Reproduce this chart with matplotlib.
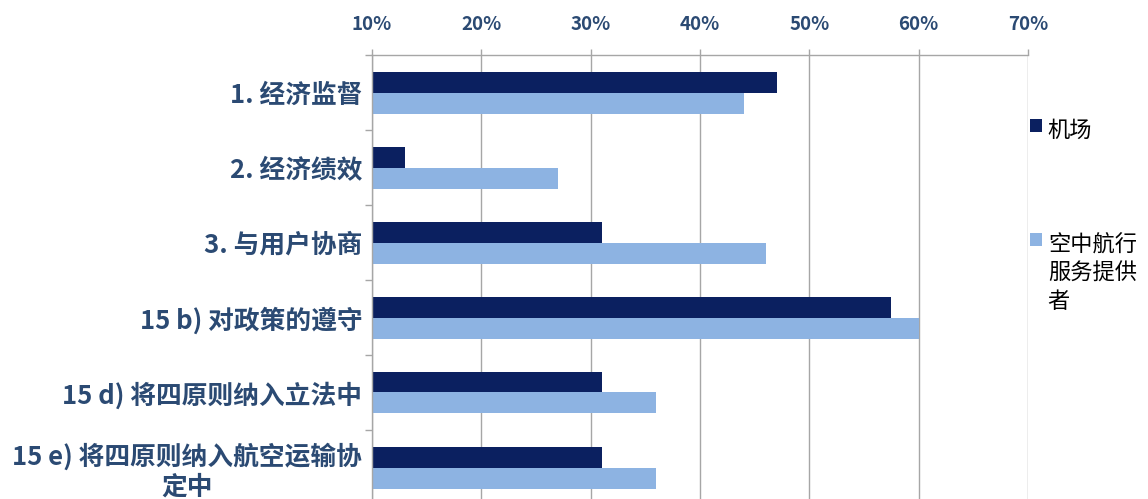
import matplotlib
matplotlib.use("Agg")
import matplotlib.pyplot as plt
import numpy as np
from matplotlib.patches import Patch

plt.rcParams["font.family"] = ["Noto Sans CJK SC", "DejaVu Sans"]

# data (percent)
categories = [
    "1. 经济监督",
    "2. 经济绩效",
    "3. 与用户协商",
    "15 b) 对政策的遵守",
    "15 d) 将四原则纳入立法中",
    "15 e) 将四原则纳入航空运输协\n定中",
]
airport = [47, 13, 31, 57.5, 31, 31]
ansp = [44, 27, 46, 60, 36, 36]
series_names = ["机场", "空中航行\n服务提供\n者"]
xticks = [10, 20, 30, 40, 50, 60, 70]

DARK = "#0B2060"
LIGHT = "#8DB3E2"
TXT = "#2B4A73"
GRID = "#A6A6A6"

fig = plt.figure(figsize=(11.48, 4.99), dpi=100)
ax = fig.add_axes([372 / 1148, -6 / 499, 656 / 1148, 450 / 499])

y = np.arange(len(categories))
h = 0.28
ax.barh(y - h / 2, [v - 10 for v in airport], left=10, height=h, color=DARK)
ax.barh(y + h / 2, [v - 10 for v in ansp], left=10, height=h, color=LIGHT)

ax.set_xlim(10, 70)
ax.set_ylim(5.5, -0.5)

ax.xaxis.tick_top()
ax.set_xticks(xticks)
ax.set_xticklabels([f"{t}%" for t in xticks])
ax.tick_params(axis="x", which="major", length=4, width=1, color=GRID,
               pad=11, labelsize=13.5, labelcolor=TXT)
for lbl in ax.get_xticklabels():
    lbl.set_fontweight("bold")
ax.grid(axis="x", color=GRID, linewidth=1)
ax.set_axisbelow(True)

ax.set_yticks(y)
ax.set_yticklabels(categories, fontsize=18.5, fontweight="bold", color=TXT,
                   multialignment="center", linespacing=1.15)
ax.set_yticks(np.arange(-0.5, 6, 1), minor=True)
ax.tick_params(axis="y", which="major", length=0, pad=7)
ax.tick_params(axis="y", which="minor", length=5, width=1, color=GRID)

for side in ["right", "bottom"]:
    ax.spines[side].set_visible(False)
for side in ["left", "top"]:
    ax.spines[side].set_color(GRID)
    ax.spines[side].set_linewidth(1)

handles = [Patch(facecolor=DARK), Patch(facecolor=LIGHT)]
leg = fig.legend(handles, series_names, loc="upper left",
                 bbox_to_anchor=(1030 / 1148, 1 - 119 / 499), frameon=False,
                 fontsize=16, handlelength=0.55, handleheight=0.55,
                 handletextpad=0.25, labelspacing=4.1, borderaxespad=0,
                 borderpad=0)
for t in leg.get_texts():
    t.set_linespacing(1.3)
# put the swatch beside the first line of a wrapped label
for col in leg._legend_handle_box.get_children():
    col.align = "left"
    for row in col.get_children():
        row.align = "top"

fig.savefig("out.png", dpi=100)
